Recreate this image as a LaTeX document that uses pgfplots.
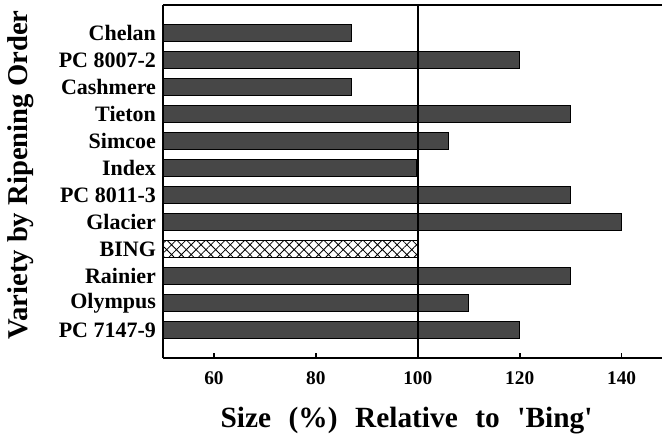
\documentclass[border=0pt]{standalone}
\usepackage{pgfplots}
\pgfplotsset{compat=1.18}
\usetikzlibrary{patterns.meta}
\usepackage{fontspec}
\setmainfont{Liberation Serif}
\begin{document}
\begin{tikzpicture}
\begin{axis}[
    name=ax,
    scale only axis,
    width=374.6pt,
    height=264.75pt,
    xbar,
    bar width=12.75pt,
    bar shift=0pt,
    xmin=50, xmax=148,
    ymin=-1.04, ymax=12.04,
    y dir=reverse,
    axis x line*=box,
    axis y line*=left,
    axis line style={line width=1.3pt},
    xtick={60,80,100,120,140},
    xtick pos=bottom,
    tick align=inside,
    major tick length=3.5pt,
    x tick style={line width=1.2pt, black},
    ytick={0,...,11},
    y tick style={draw=none},
    yticklabels={Chelan, PC 8007-2, Cashmere, Tieton, Simcoe, Index, PC 8011-3, Glacier, BING, Rainier, Olympus, PC 7147-9},
    /pgf/number format/assume math mode=true,
    xticklabel style={font=\fontsize{14.5}{16}\selectfont\bfseries, yshift=-6.5pt},
    yticklabel style={font=\fontsize{16.5}{18}\selectfont\bfseries, xshift=-1.75pt},
    xlabel={Size\hspace{0.6em}(\%)\hspace{0.6em}Relative\hspace{0.6em}to\hspace{0.6em}\textquotesingle Bing\textquotesingle},
    ylabel={Variety by Ripening Order},
    xlabel style={font=\fontsize{22}{24}\selectfont\bfseries,
        at={(axis description cs:0.4876,0)}, anchor=base, yshift=-52.5pt, inner sep=0pt},
    ylabel style={font=\fontsize{21.5}{24}\selectfont\bfseries,
        at={(axis description cs:-0.2703,0.518)}, anchor=base},
]
\addplot[draw=black, line width=0.6pt, fill=black!72] coordinates {
    (87,0) (120,1) (87,2) (130,3) (106,4) (99.7,5)
    (130,6) (140,7) (130,9) (110,10) (120,11)
};
\addplot[draw=black, line width=0.6pt, fill=white,
    pattern={Hatch[angle=45, distance=5.2pt, line width=0.6pt]}] coordinates {
    (100,8)
};
\draw[line width=1.3pt] (axis cs:100,-1.04) -- (axis cs:100,12.04);
\end{axis}
\pgfresetboundingbox
\path ([shift={(-122.25pt,-58.5pt)}]ax.south west) rectangle ([shift={(1.2pt,3.75pt)}]ax.north east);
\end{tikzpicture}
\end{document}
